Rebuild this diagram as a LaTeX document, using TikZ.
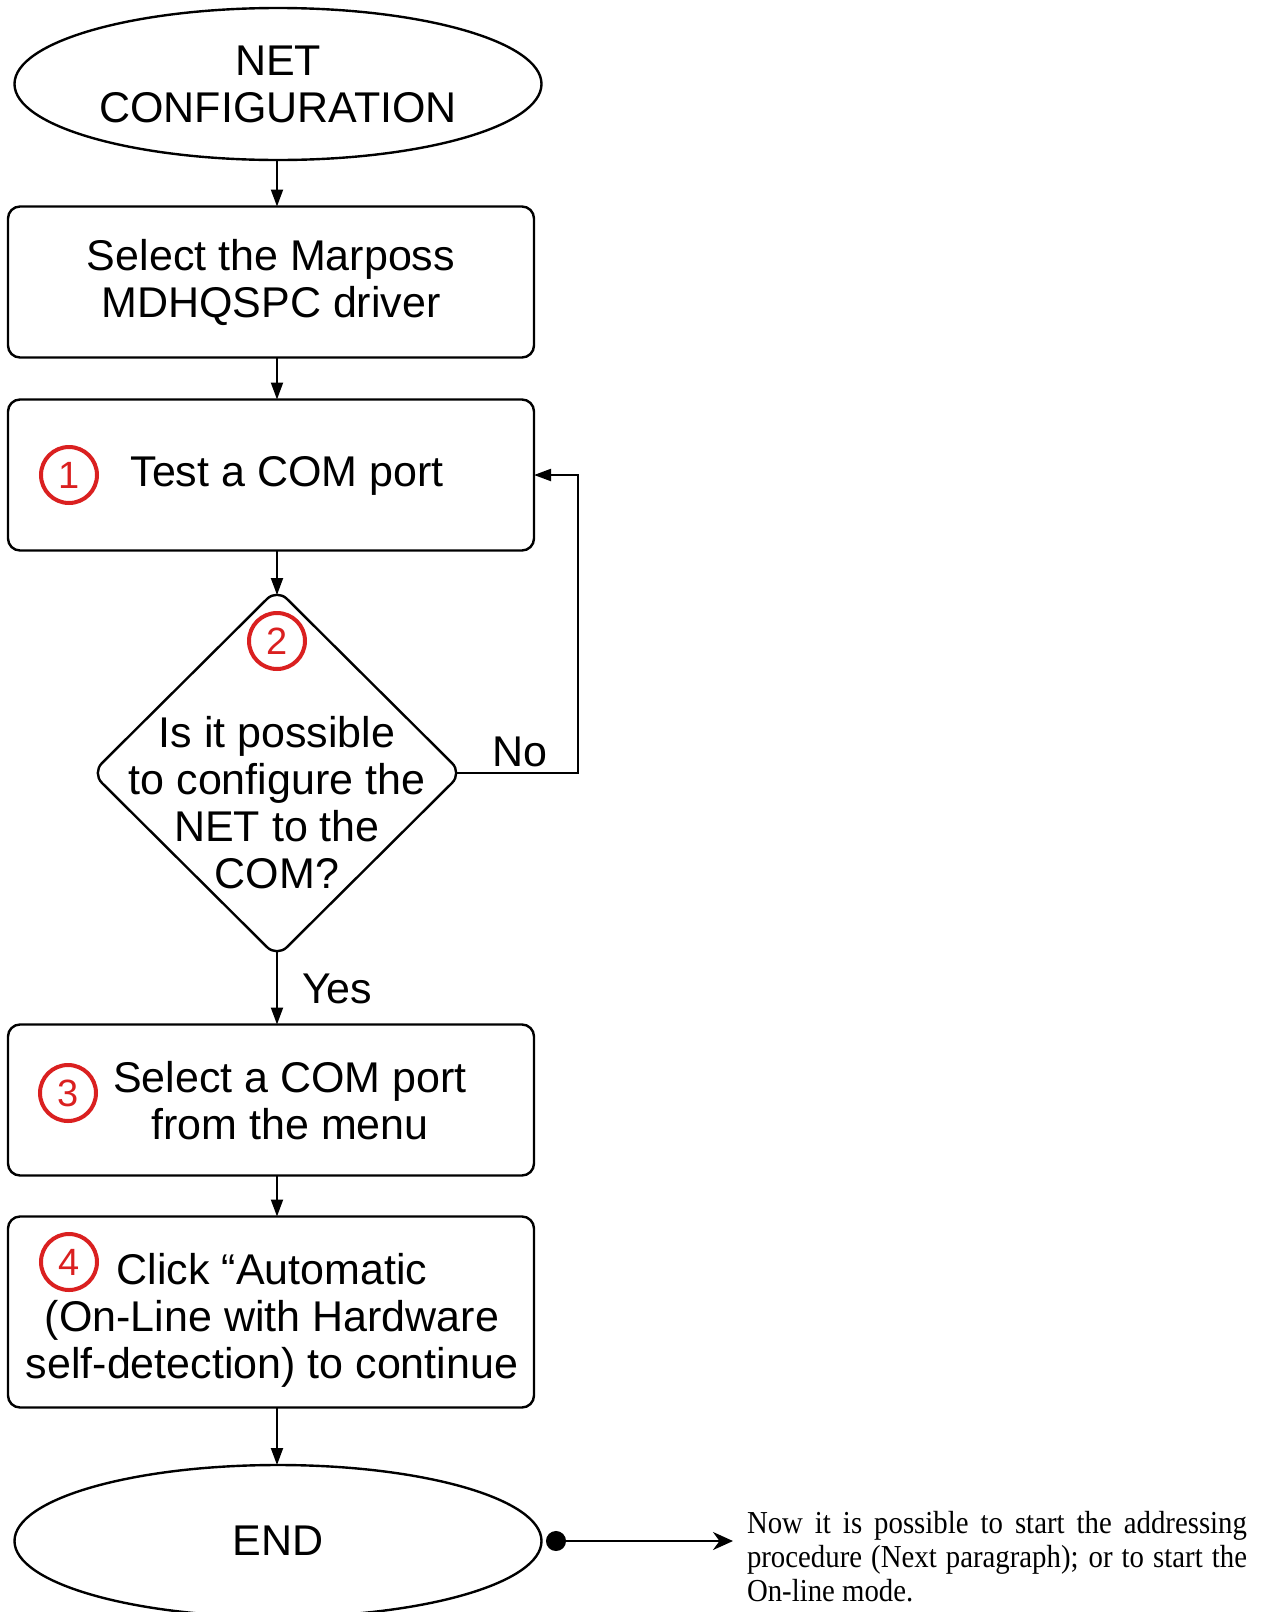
\documentclass[tikz,border=0pt]{standalone}
\usepackage{fontspec}
\setmainfont{Liberation Sans}
\newfontfamily\notefont[FakeStretch=0.9]{Liberation Serif}
\usetikzlibrary{shapes.geometric,arrows.meta}
\definecolor{markred}{RGB}{218,32,32}

\begin{document}
\begin{tikzpicture}[x=1pt,y=-1pt,
  every node/.style={inner sep=0pt, outer sep=0pt},
  bigtext/.style={font=\fontsize{43}{47}\selectfont},
  flowbox/.style={draw, line width=2.4pt, rounded corners=12pt, minimum width=526pt},
  terminal/.style={draw, ellipse, line width=2.4pt, minimum width=527pt,
    minimum height=152pt, align=center, bigtext},
  stepnum/.style={circle, draw=markred, line width=4pt, minimum size=56pt,
    text=markred, font=\fontsize{38}{38}\selectfont},
  link/.style={line width=2pt, -{Triangle[length=17pt,width=12pt]}},
  note/.style={anchor=north west, text width=500pt, align=justify,
    font=\notefont\fontsize{32}{34}\selectfont}
]
\useasboundingbox (0,0) rectangle (1268,1612);

% start terminal
\node[terminal] (start) at (278,84) {NET\\CONFIGURATION};

% step: driver selection
\node[flowbox, minimum height=151pt, align=center, bigtext] (driver) at (271,282)
  {Select the Marposs\\MDHQSPC driver};

% step 1: test a port
\node[flowbox, minimum height=151pt] (test) at (271,475) {};
\node[bigtext, anchor=base] (testtxt) at (287,486) {Test a COM port};
\node[stepnum] (n1) at (69,475) {1};

% decision 2
\node[diamond, draw, line width=2.4pt, rounded corners=14pt,
  minimum width=370pt, minimum height=368pt] (check) at (277,773) {};
\node[bigtext, align=center, anchor=north] (checktxt) at (277,716)
  {Is it possible\\to configure the\\NET to the\\COM?};
\node[stepnum] (n2) at (277,641) {2};

% step 3: choose port
\node[flowbox, minimum height=151pt] (choose) at (271,1100) {};
\node[bigtext, align=center, anchor=north] (choosetxt) at (290,1061)
  {Select a COM port\\from the menu};
\node[stepnum] (n3) at (68,1093) {3};

% step 4: automatic mode
\node[flowbox, minimum height=191pt] (auto) at (271,1312) {};
\node[bigtext, align=center, anchor=north] (autotxt) at (272,1253)
  {Click “Automatic\\(On-Line with Hardware\\self-detection) to continue};
\node[stepnum] (n4) at (69,1262) {4};

% end terminal
\node[terminal] (finish) at (278,1541) {END};

% closing remark
\node[note] (remark) at (747,1511)
  {Now it is possible to start the addressing procedure (Next paragraph); or to start the On-line mode.};
\coordinate (dotpt) at ([xshift=4.5pt]finish.east);
\coordinate (remarktip) at (733,1541);

% connectors
\draw[link] (start.south -| check.north) -- (driver.north -| check.north);
\draw[link] (driver.south -| check.north) -- (test.north -| check.north);
\draw[link, shorten >=-6pt] (test.south -| check.north) -- (check.north);
\draw[link] ([yshift=6pt]check.south) -- (choose.north -| check.south)
  node[bigtext, anchor=base west, pos=0.5, xshift=25pt, yshift=-16pt] (yes) {Yes};
\draw[link] ([xshift=-6pt]check.east) -- ++(122,0) |- (test.east);
\node[bigtext, anchor=base west] (no) at (492,766) {No};
\draw[link] (choose.south -| check.south) -- (auto.north -| check.south);
\draw[link] (auto.south -| check.south) -- (finish.north -| check.south);
\draw[line width=2.4pt, {Circle[length=20pt]}-{Stealth[length=20pt,width=18pt]}]
  (dotpt) -- (remarktip);
\end{tikzpicture}
\end{document}
